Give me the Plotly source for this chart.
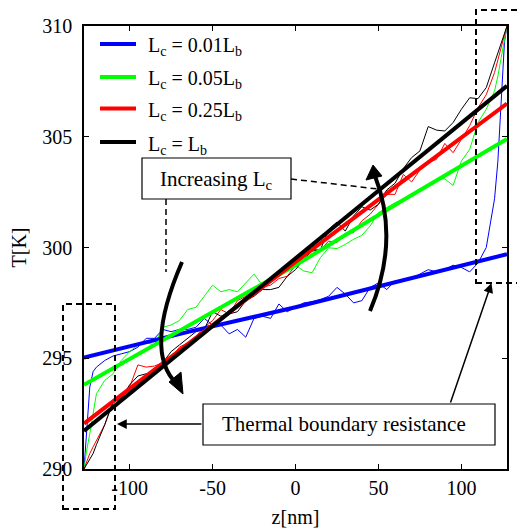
import plotly.graph_objects as go

# ---------------- data ----------------
z_nm = [-127.5, -126, -124, -122, -120, -115, -110, -105, -100, -95, -90, -85, -80, -75, -70,
        -65, -60, -55, -50, -45, -40, -35, -30, -25, -20, -15, -10, -5, 0,
        5, 10, 15, 20, 25, 30, 35, 40, 45, 50, 55, 60, 65, 70, 75, 80, 85, 90, 95, 100,
        105, 110, 115, 120, 122, 124, 126, 127.5]

T_raw_001 = [290.0, 291.5, 293.7, 294.4, 294.6, 294.9, 295.1, 295.2, 295.3, 295.5, 295.9, 295.9, 296.3, 296.2, 296.3,
             296.3, 296.4, 296.8, 296.5, 296.5, 296.1, 296.3, 295.95, 296.8, 296.9, 296.8, 297.45, 297.1, 297.3,
             297.5, 297.55, 297.65, 297.8, 298.2, 297.9, 297.5, 297.6, 298.2, 298.4, 298.1, 298.5, 298.5, 298.6, 298.8,
             299.0, 298.9, 299.0, 299.2, 299.1, 298.9, 299.3, 300.0, 302.2, 303.9, 306.8, 309.3, 310.0]

T_raw_005 = [290.0, 290.8, 291.6, 292.6, 293.4, 294.0, 294.3, 294.9, 295.3, 295.6, 295.7, 295.6, 296.4, 296.5, 296.7,
             297.2, 297.3, 297.8, 298.3, 298.0, 298.1, 298.0, 298.4, 298.8, 298.3, 298.6, 298.9, 299.0, 299.2,
             298.94, 298.86, 299.54, 299.99, 299.95, 300.14, 300.37, 300.55, 300.97, 301.57, 301.8, 302.02, 302.17,
             302.33, 302.6, 302.85, 303.08, 303.1, 302.8, 303.9, 304.43, 305.64, 306.24, 307.07, 307.74, 308.57,
             309.47, 310.0]

T_raw_025 = [290.0, 290.3, 290.7, 291.0, 291.3, 292.0, 293.1, 293.2, 293.7, 294.7, 294.6, 294.65, 294.8, 295.0, 295.5,
             295.7, 296.0, 296.4, 296.7, 297.2, 297.0, 297.6, 297.8, 298.1, 298.2, 298.3, 298.6, 298.7, 299.2,
             299.62, 299.92, 299.89, 300.29, 300.22, 300.64, 300.67, 301.2, 301.5, 301.95, 302.4, 302.4, 303.3,
             302.96, 303.5, 303.83, 303.98, 304.7, 304.28, 304.88, 305.5, 306.3, 306.9, 307.9, 308.5, 309.1,
             309.6, 310.0]

T_raw_100 = [290.0, 290.2, 290.5, 290.7, 291.1, 292.0, 293.0, 293.2, 293.8, 294.2, 294.3, 294.4, 294.8, 295.3, 295.6,
             295.9, 296.2, 296.3, 297.1, 296.9, 297.0, 297.1, 297.6, 297.8, 298.1, 298.1, 298.2, 298.7, 299.0,
             299.47, 299.84, 299.89, 300.82, 301.15, 300.74, 301.42, 301.84, 301.69, 301.95, 302.6, 302.9, 303.56,
             304.06, 304.36, 305.46, 305.3, 305.26, 305.64, 306.24, 306.76, 306.72, 307.22, 308.34, 308.8, 309.25,
             309.7, 310.0]

z_fit = [-127.5, -64, 0, 64, 127.5]
T_fit_001 = [295.03, 296.2, 297.3, 298.5, 299.7]
T_fit_005 = [293.8, 296.5, 299.2, 302.1, 304.9]
T_fit_025 = [292.05, 295.7, 299.35, 302.95, 306.5]
T_fit_100 = [291.72, 295.6, 299.55, 303.45, 307.3]

series_names = ["L<sub>c</sub> = 0.01L<sub>b</sub>", "L<sub>c</sub> = 0.05L<sub>b</sub>",
                "L<sub>c</sub> = 0.25L<sub>b</sub>", "L<sub>c</sub> = L<sub>b</sub>"]
series_colors = ["#0000ff", "#00ff00", "#ff0000", "#000000"]

x_tick_vals = [-100, -50, 0, 50, 100]
x_tick_text = ["-100", "-50", "0", "50", "100"]
y_tick_vals = [290, 295, 300, 305, 310]
y_tick_text = ["290", "295", "300", "305", "310"]

# ---------------- figure ----------------
OFF = 8                      # page body margin of the browser
W, H = 525 - OFF, 530 - OFF
L, R, T, B = 84 - OFF, 18, 26 - OFF, 61
PW, PH = W - L - R, H - T - B
FONT = "Liberation Serif"
X0, Y1 = 84, 469             # plot-area left / bottom in screen pixels


def px(xp):
    return (xp - X0) / PW


def py(yp):
    return (Y1 - yp) / PH


fig = go.Figure()

raws = [T_raw_001, T_raw_005, T_raw_025, T_raw_100]
fits = [T_fit_001, T_fit_005, T_fit_025, T_fit_100]

for i in range(4):
    fig.add_trace(go.Scatter(x=z_nm, y=raws[i], mode="lines",
                             line=dict(color=series_colors[i], width=1),
                             showlegend=False, hoverinfo="skip"))
for i in range(4):
    fig.add_trace(go.Scatter(x=z_fit, y=fits[i], mode="lines", name=series_names[i],
                             line=dict(color=series_colors[i], width=4), showlegend=False))

DASH = "6px,4px"
shapes = []
annotations = []

# legend (drawn by hand to match the reference key geometry)
legend_rows = [44, 77, 108.5, 142]
for i in range(4):
    shapes.append(dict(type="line", xref="paper", yref="paper",
                       x0=px(100), x1=px(136), y0=py(legend_rows[i]), y1=py(legend_rows[i]),
                       line=dict(color=series_colors[i], width=4)))
    annotations.append(dict(text=series_names[i], xref="paper", yref="paper",
                            x=px(146), y=py(legend_rows[i] + 3), xanchor="left", yanchor="middle",
                            showarrow=False, font=dict(family=FONT, size=20, color="black")))

# dashed rectangles
shapes.append(dict(type="rect", xref="paper", yref="paper",
                   x0=px(63), x1=px(115), y0=py(509), y1=py(304),
                   line=dict(color="black", width=2, dash=DASH)))
shapes.append(dict(type="rect", xref="paper", yref="paper",
                   x0=px(476), x1=px(545), y0=py(283), y1=py(10),
                   line=dict(color="black", width=2, dash=DASH)))
# Increasing box and dashed leaders
shapes.append(dict(type="rect", xref="paper", yref="paper",
                   x0=px(142), x1=px(291), y0=py(199), y1=py(158),
                   line=dict(color="black", width=1.2), fillcolor="white"))
shapes.append(dict(type="line", xref="paper", yref="paper",
                   x0=px(291), y0=py(179), x1=px(378), y1=py(189),
                   line=dict(color="black", width=1.5, dash=DASH)))
shapes.append(dict(type="line", xref="paper", yref="paper",
                   x0=px(166), y0=py(199), x1=px(166), y1=py(272),
                   line=dict(color="black", width=1.5, dash=DASH)))
# Thermal box
shapes.append(dict(type="rect", xref="paper", yref="paper",
                   x0=px(203), x1=px(495), y0=py(445), y1=py(404),
                   line=dict(color="black", width=1.2), fillcolor="white"))


def ppath(pts, cmd):
    out = []
    for c, (a, b) in zip(cmd, pts):
        out.append(f"{c}{px(a):.5f},{py(b):.5f}")
    return " ".join(out)


# curved arrows
shapes.append(dict(type="path", xref="paper", yref="paper",
                   path=ppath([(182, 262), (143, 352), (177, 384)], ["M", "Q", " "]),
                   line=dict(color="black", width=4)))
shapes.append(dict(type="path", xref="paper", yref="paper",
                   path=ppath([(169, 382), (183, 394), (181, 372)], ["M", "L", "L"]) + " Z",
                   line=dict(color="black", width=1), fillcolor="black"))
shapes.append(dict(type="path", xref="paper", yref="paper",
                   path=ppath([(370, 311), (400, 240), (375, 176)], ["M", "Q", " "]),
                   line=dict(color="black", width=4)))
shapes.append(dict(type="path", xref="paper", yref="paper",
                   path=ppath([(366, 180), (373, 165), (382, 176)], ["M", "L", "L"]) + " Z",
                   line=dict(color="black", width=1), fillcolor="black"))

annotations += [
    dict(text="Increasing L<sub>c</sub>", xref="paper", yref="paper", x=px(216), y=py(180),
         showarrow=False, font=dict(family=FONT, size=21, color="black"), xanchor="center", yanchor="middle"),
    dict(text="Thermal boundary resistance", xref="paper", yref="paper", x=px(344), y=py(424),
         showarrow=False, font=dict(family=FONT, size=21, color="black"), xanchor="center", yanchor="middle"),
    dict(text="", xref="paper", yref="paper", x=px(117), y=py(424), ax=86, ay=0,
         showarrow=True, arrowhead=2, arrowsize=1.3, arrowwidth=1.5, arrowcolor="black"),
    dict(text="", xref="paper", yref="paper", x=px(491.5), y=py(283), ax=-41.5, ay=121,
         showarrow=True, arrowhead=2, arrowsize=1.3, arrowwidth=1.5, arrowcolor="black"),
]

fig.update_layout(
    width=W, height=H,
    margin=dict(l=L, r=R, t=T, b=B, pad=0),
    paper_bgcolor="white", plot_bgcolor="white",
    font=dict(family=FONT, size=20, color="black"),
    shapes=shapes, annotations=annotations,
    showlegend=False,
    xaxis=dict(range=[-127.5, 127.5], tickmode="array", tickvals=x_tick_vals, ticktext=x_tick_text,
               ticks="inside", ticklen=5, tickwidth=1, tickcolor="black",
               showline=True, linecolor="black", linewidth=1.5, mirror="ticks",
               showgrid=False, zeroline=False,
               title=dict(text="z[nm]", font=dict(family=FONT, size=20), standoff=12),
               tickfont=dict(family=FONT, size=20), automargin=False),
    yaxis=dict(range=[290, 310], tickmode="array", tickvals=y_tick_vals, ticktext=y_tick_text,
               ticks="inside", ticklen=5, tickwidth=1, tickcolor="black",
               showline=True, linecolor="black", linewidth=1.5, mirror="ticks",
               showgrid=False, zeroline=False, ticklabelstandoff=6,
               title=dict(text="T[K]", font=dict(family=FONT, size=20), standoff=12),
               tickfont=dict(family=FONT, size=20), automargin=False),
)

fig.write_html("out.html")
